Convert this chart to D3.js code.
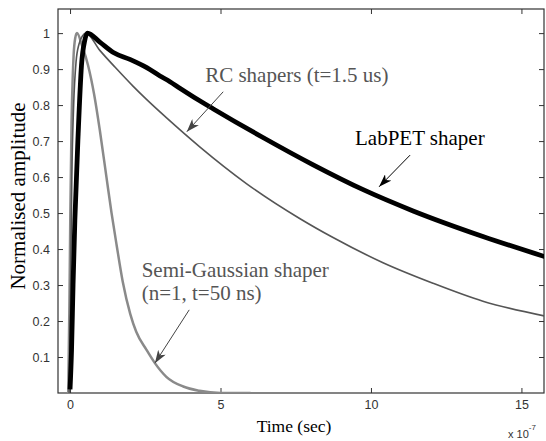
<!DOCTYPE html>
<html>
<head>
<meta charset="utf-8">
<script src="https://cdn.jsdelivr.net/npm/d3@7"></script>
<style>
  body { margin: 0; background: #fff; }
  .tick text { font-family: "Liberation Sans", Arial, sans-serif; font-size: 12.5px; fill: #333; }
  .serif { font-family: "Liberation Serif", "Times New Roman", serif; }
</style>
</head>
<body>
<div id="chart"></div>
<script>
// time in units of 1e-7 s, amplitude normalised
const semiGaussT = [-0.06, -0.02, 0.01, 0.05, 0.09, 0.12, 0.17, 0.23, 0.4, 0.6, 0.8, 0.99, 1.21, 1.38, 1.55, 1.75, 2.0, 2.2, 2.54, 2.82, 3.2, 3.76, 4.3, 5.0, 6.0];
const semiGaussV = [0.0, 0.25, 0.5, 0.75, 0.88, 0.94, 0.985, 1.0, 0.965, 0.91, 0.83, 0.73, 0.6, 0.5, 0.41, 0.31, 0.22, 0.17, 0.12, 0.083, 0.045, 0.018, 0.006, 0.0, 0.0];

const rcT = [-0.03, 0.02, 0.06, 0.12, 0.2, 0.3, 0.42, 0.53, 0.99, 1.5, 2.1, 2.55, 3.2, 4.31, 5.86, 7.63, 8.74, 10.4, 12.06, 13.72, 15.77];
const rcV = [0.0, 0.3, 0.6, 0.8, 0.92, 0.97, 0.993, 1.0, 0.952, 0.905, 0.852, 0.815, 0.765, 0.684, 0.582, 0.485, 0.432, 0.362, 0.305, 0.255, 0.214];

const labpetT = [0.0, 0.05, 0.1, 0.16, 0.27, 0.38, 0.49, 0.58, 0.99, 1.44, 1.99, 2.55, 2.99, 3.32, 3.65, 4.31, 4.75, 6.41, 8.08, 9.74, 11.4, 13.72, 15.77];
const labpetV = [0.01, 0.12, 0.3, 0.48, 0.72, 0.91, 0.98, 1.0, 0.975, 0.946, 0.927, 0.904, 0.881, 0.865, 0.847, 0.812, 0.79, 0.71, 0.634, 0.565, 0.506, 0.435, 0.379];

const xTicks = [0, 5, 10, 15];
const yTicks = [0.1, 0.2, 0.3, 0.4, 0.5, 0.6, 0.7, 0.8, 0.9, 1];

// annotations: text anchor and arrow (from -> tip), in data units
const notes = [
  { lines: ['RC shapers (t=1.5 us)'], t: 4.49, v: 0.865, color: '#555', from: [5.09, 0.837], to: [3.88, 0.726] },
  { lines: ['LabPET shaper'], t: 9.47, v: 0.689, color: '#000', from: [11.3, 0.661], to: [10.27, 0.573] },
  { lines: ['Semi-Gaussian shaper', '(n=1, t=50 ns)'], t: 2.38, v: 0.323, color: '#555', from: [3.96, 0.231], to: [2.82, 0.083] }
];

const W = 546, H = 441;
const margin = { left: 58, right: 2, top: 9, bottom: 48 };

const x = d3.scaleLinear().domain([-0.4, 15.75]).range([margin.left, W - margin.right]);
const y = d3.scaleLinear().domain([0, 1.067]).range([H - margin.bottom, margin.top]);

const svg = d3.select('#chart').append('svg').attr('width', W).attr('height', H);

const defs = svg.append('defs');
defs.append('clipPath').attr('id', 'clip').append('rect')
  .attr('x', margin.left).attr('y', margin.top)
  .attr('width', W - margin.left - margin.right).attr('height', H - margin.top - margin.bottom);
['#000', '#444'].forEach((c, i) => {
  defs.append('marker').attr('id', 'arr' + i)
    .attr('viewBox', '0 0 13 9').attr('refX', 13).attr('refY', 4.5)
    .attr('markerWidth', 13).attr('markerHeight', 9).attr('markerUnits', 'userSpaceOnUse')
    .attr('orient', 'auto')
    .append('path').attr('d', 'M0,0 L13,4.5 L0,9 L3.5,4.5 Z').attr('fill', c);
});

// axes (box with inward ticks)
const axColor = '#333';
const axBottom = svg.append('g').attr('transform', `translate(0,${y.range()[0]})`)
  .call(d3.axisBottom(x).tickValues(xTicks).tickSize(-5).tickPadding(7).tickFormat(d3.format('d')));
const axTop = svg.append('g').attr('transform', `translate(0,${margin.top})`)
  .call(d3.axisTop(x).tickValues(xTicks).tickSize(-5).tickFormat(''));
const axLeft = svg.append('g').attr('transform', `translate(${margin.left},0)`)
  .call(d3.axisLeft(y).tickValues(yTicks).tickSize(-5).tickPadding(8).tickFormat(d => d === 1 ? '1' : d3.format('.1f')(d)));
const axRight = svg.append('g').attr('transform', `translate(${W - margin.right},0)`)
  .call(d3.axisRight(y).tickValues(yTicks).tickSize(-5).tickFormat(''));
[axBottom, axTop, axLeft, axRight].forEach(g => {
  g.select('.domain').remove();
  g.selectAll('.tick line').attr('stroke', axColor);
});
svg.append('rect')
  .attr('x', margin.left).attr('y', margin.top)
  .attr('width', W - margin.left - margin.right).attr('height', H - margin.top - margin.bottom)
  .attr('fill', 'none').attr('stroke', axColor).attr('stroke-width', 1.2);

// curves
const line = d3.line().x(d => x(d[0])).y(d => y(d[1])).curve(d3.curveMonotoneX);
const plot = svg.append('g').attr('clip-path', 'url(#clip)');
plot.append('path').datum(d3.zip(semiGaussT, semiGaussV))
  .attr('d', line).attr('fill', 'none').attr('stroke', '#8a8a8a').attr('stroke-width', 2.5);
plot.append('path').datum(d3.zip(rcT, rcV))
  .attr('d', line).attr('fill', 'none').attr('stroke', '#555').attr('stroke-width', 1.6);
plot.append('path').datum(d3.zip(labpetT, labpetV))
  .attr('d', line).attr('fill', 'none').attr('stroke', '#000').attr('stroke-width', 4.8)
  .attr('stroke-linejoin', 'round');

// annotations
notes.forEach(n => {
  const txt = svg.append('text').attr('class', 'serif')
    .attr('x', x(n.t)).attr('y', y(n.v))
    .attr('font-size', 21).attr('fill', n.color);
  n.lines.forEach((l, i) => {
    txt.append('tspan').attr('x', x(n.t)).attr('dy', i === 0 ? 0 : 23.5).text(l);
  });
  svg.append('line')
    .attr('x1', x(n.from[0])).attr('y1', y(n.from[1]))
    .attr('x2', x(n.to[0])).attr('y2', y(n.to[1]))
    .attr('stroke', n.color === '#000' ? '#000' : '#444').attr('stroke-width', 1)
    .attr('marker-end', `url(#arr${n.color === '#000' ? 0 : 1})`);
});

// axis titles
svg.append('text').attr('class', 'serif')
  .attr('x', 294).attr('y', 432).attr('text-anchor', 'middle')
  .attr('font-size', 17.5).attr('fill', '#000').text('Time (sec)');
svg.append('text').attr('class', 'serif')
  .attr('transform', 'translate(25,196) rotate(-90)').attr('text-anchor', 'middle')
  .attr('font-size', 21).attr('fill', '#000').text('Normalised amplitude');
const mult = svg.append('text')
  .attr('x', 508).attr('y', 438)
  .attr('font-family', '"Liberation Sans", Arial, sans-serif').attr('font-size', 11).attr('fill', '#333');
mult.append('tspan').text('x 10');
mult.append('tspan').attr('dy', -8).attr('font-size', 8).text('-7');
</script>
</body>
</html>
